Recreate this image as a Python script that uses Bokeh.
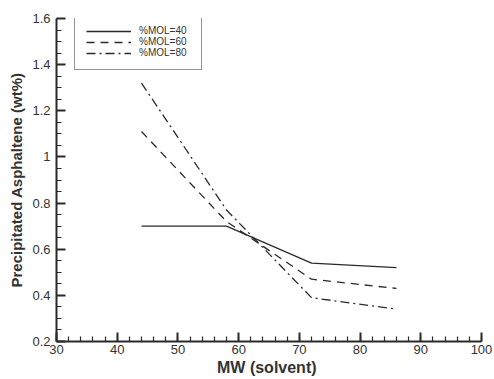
from bokeh.plotting import figure
from bokeh.models import Range1d, FixedTicker, Legend, LegendItem
from bokeh.embed import file_html
from bokeh.resources import INLINE

# Data (solvent molecular weight vs precipitated asphaltene)
mw = [44, 58, 72, 86]
mol40 = [0.70, 0.70, 0.54, 0.52]
mol60 = [1.11, 0.72, 0.47, 0.43]
mol80 = [1.32, 0.77, 0.39, 0.34]
series_labels = ["%MOL=40", "%MOL=60", "%MOL=80"]

x_ticks = [30, 40, 50, 60, 70, 80, 90, 100]
x_minor = [v for v in range(30, 101, 2)]
y_ticks = [0.2, 0.4, 0.6, 0.8, 1.0, 1.2, 1.4, 1.6]
y_tick_labels = ["0.2", "0.4", "0.6", "0.8", "1", "1.2", "1.4", "1.6"]
y_minor = [round(0.2 + 0.05 * i, 2) for i in range(29)]

FONT = "Liberation Sans"
INK = "#2a2a2a"

p = figure(width=494, height=379, output_backend="svg", toolbar_location=None,
           x_range=Range1d(30, 100), y_range=Range1d(0.2, 1.6),
           min_border_left=56, min_border_right=13, min_border_top=18, min_border_bottom=38)
p.outline_line_color = None
p.xgrid.visible = False
p.ygrid.visible = False
p.background_fill_color = "white"

r1 = p.line(mw, mol40, line_color=INK, line_width=1.3)
r2 = p.line(mw, mol60, line_color=INK, line_width=1.3, line_dash="8 6")
r3 = p.line(mw, mol80, line_color=INK, line_width=1.3, line_dash="9 4 2 4")

for ax in (p.xaxis[0], p.yaxis[0]):
    ax.axis_line_width = 2
    ax.axis_line_color = INK
    ax.major_tick_in = 9
    ax.major_tick_out = 0
    ax.minor_tick_in = 5
    ax.minor_tick_out = 0
    ax.major_tick_line_width = 2
    ax.major_tick_line_color = INK
    ax.minor_tick_line_width = 1.2
    ax.minor_tick_line_color = INK
    ax.major_label_text_font = FONT
    ax.major_label_text_font_size = "13px"
    ax.major_label_text_color = "#333333"
    ax.axis_label_text_font = FONT
    ax.axis_label_text_font_style = "bold"
    ax.axis_label_text_color = "#333333"

p.xaxis.ticker = FixedTicker(ticks=x_ticks, minor_ticks=x_minor)
p.yaxis.ticker = FixedTicker(ticks=y_ticks, minor_ticks=y_minor)
p.yaxis.major_label_overrides = {v: s for v, s in zip(y_ticks, y_tick_labels)}
p.xaxis.major_label_standoff = 3
p.yaxis.major_label_standoff = 6
p.xaxis.axis_label = "MW  (solvent)"
p.yaxis.axis_label = "Precipitated Asphaltene (wt%)"
p.xaxis.axis_label_text_font_size = "16px"
p.yaxis.axis_label_text_font_size = "15px"
p.xaxis.axis_label_standoff = 2
p.yaxis.axis_label_standoff = 4

legend = Legend(items=[LegendItem(label=series_labels[0], renderers=[r1]),
                       LegendItem(label=series_labels[1], renderers=[r2]),
                       LegendItem(label=series_labels[2], renderers=[r3])],
                location=(18, 271))
legend.border_line_color = INK
legend.border_line_width = 1
legend.background_fill_color = "white"
legend.background_fill_alpha = 1
legend.padding = 11
legend.spacing = 0
legend.glyph_width = 45
legend.glyph_height = 10
legend.label_height = 10
legend.label_width = 51
legend.label_standoff = 8
legend.label_text_font = FONT
legend.label_text_font_size = "10px"
legend.label_text_color = "#333333"
p.add_layout(legend, "center")

open("out.html", "w").write(file_html(p, INLINE))
